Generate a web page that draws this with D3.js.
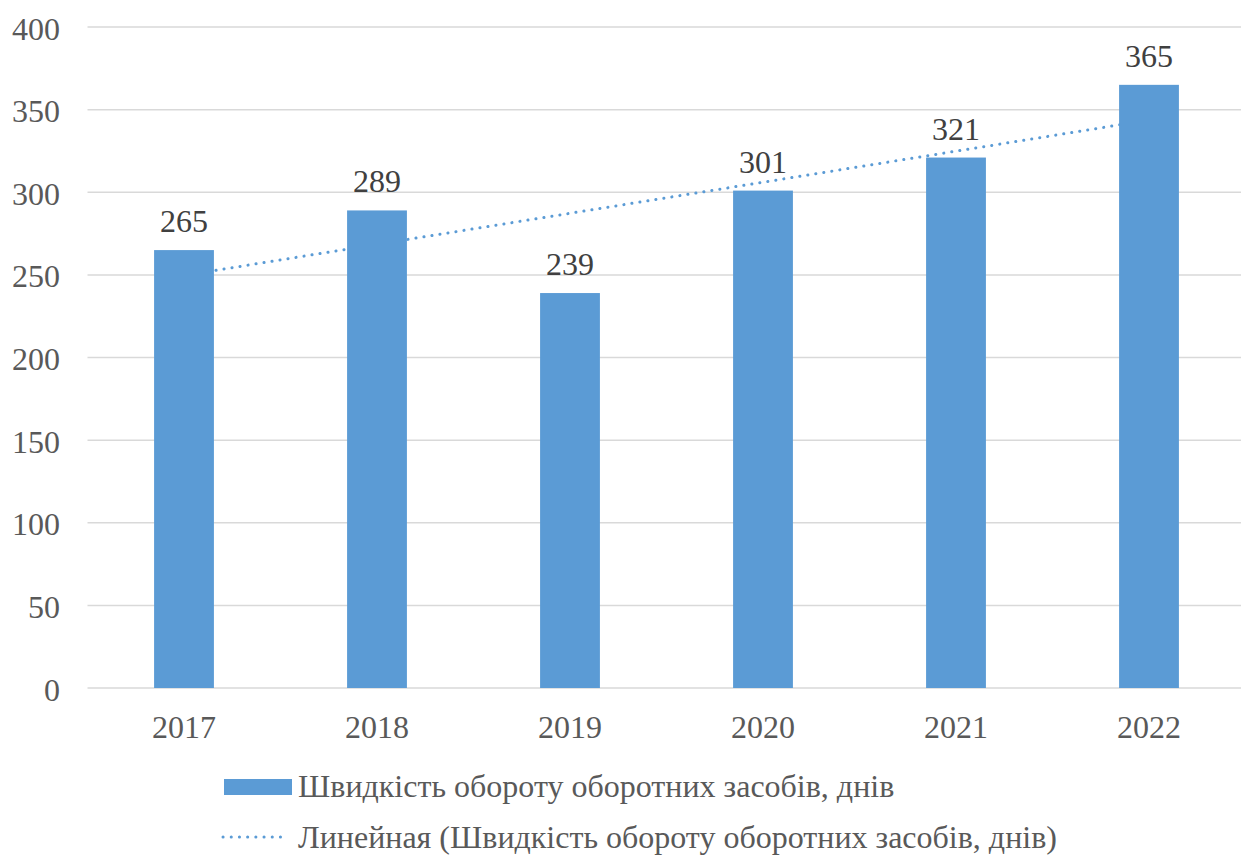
<!DOCTYPE html>
<html>
<head>
<meta charset="utf-8">
<script src="https://cdn.jsdelivr.net/npm/d3@7"></script>
</head>
<body style="margin:0">
<svg id="chart" width="1241" height="856" font-family="Liberation Serif"></svg>
<script>
// Turnover speed of working capital, days, by year
const years = ["2017", "2018", "2019", "2020", "2021", "2022"];
const values = [265, 289, 239, 301, 321, 365];
const yTicks = [0, 50, 100, 150, 200, 250, 300, 350, 400];
const seriesName = "Швидкість обороту оборотних засобів, днів";
const trendName = "Линейная (Швидкість обороту оборотних засобів, днів)";

const svg = d3.select("#chart");
const W = 1241;
const plot = { left: 87.5, right: 1245.5, top: 27, bottom: 688 };
const barColor = "#5B9BD5";
const trendColor = "#5B9BD5";
const FONT = "Liberation Serif";
const FS = 32;

const x = d3.scaleBand().domain(years).range([plot.left, plot.right]).paddingInner(0.69).paddingOuter(0.345);
const y = d3.scaleLinear().domain([0, 400]).range([plot.bottom, plot.top]);

// Horizontal gridlines
svg.append("g")
  .selectAll("line")
  .data(yTicks)
  .join("line")
  .attr("x1", plot.left)
  .attr("x2", W)
  .attr("y1", d => y(d))
  .attr("y2", d => y(d))
  .attr("stroke", "#D9D9D9")
  .attr("stroke-width", 1.5);

// Y axis labels
const yAxis = d3.axisLeft(y).tickValues(yTicks).tickSize(0).tickPadding(0);
const yg = svg.append("g").attr("transform", "translate(60,0)").call(yAxis)
  .attr("font-family", FONT).attr("font-size", FS);
yg.select(".domain").remove();
yg.selectAll("text")
  .attr("fill", "#595959")
  .attr("dy", 0)
  .attr("y", 12);

// X axis labels
const xAxis = d3.axisBottom(x).tickSize(0).tickPadding(0);
const xg = svg.append("g").attr("transform", `translate(0,${plot.bottom})`).call(xAxis)
  .attr("font-family", FONT).attr("font-size", FS);
xg.select(".domain").remove();
xg.selectAll("text")
  .attr("fill", "#595959")
  .attr("dy", 0)
  .attr("y", 50);

// Linear trend (least squares over year index), drawn beneath the bars
const n = values.length;
const xs = d3.range(1, n + 1);
const mx = d3.mean(xs), my = d3.mean(values);
const slope = d3.sum(xs, (xi, i) => (xi - mx) * (values[i] - my)) / d3.sum(xs, xi => (xi - mx) ** 2);
const intercept = my - slope * mx;
const trend = xs.map((xi, i) => ({ year: years[i], v: intercept + slope * xi }));
const cx = d => x(d) + x.bandwidth() / 2;

svg.append("path")
  .datum(trend)
  .attr("d", d3.line().x(d => cx(d.year)).y(d => y(d.v)))
  .attr("fill", "none")
  .attr("stroke", trendColor)
  .attr("stroke-width", 3)
  .attr("stroke-linecap", "round")
  .attr("stroke-dasharray", "0.1 8");

// Bars
svg.append("g")
  .selectAll("rect")
  .data(values)
  .join("rect")
  .attr("x", (d, i) => x(years[i]))
  .attr("y", d => y(d))
  .attr("width", x.bandwidth())
  .attr("height", d => y(0) - y(d))
  .attr("fill", barColor);

// Value labels
svg.append("g")
  .attr("font-family", FONT).attr("font-size", FS)
  .selectAll("text")
  .data(values)
  .join("text")
  .attr("x", (d, i) => cx(years[i]))
  .attr("y", d => y(d) - 18)
  .attr("text-anchor", "middle")
  .attr("fill", "#404040")
  .text(d => d);

// Legend
const lg = svg.append("g").attr("font-family", FONT).attr("font-size", FS);
lg.append("rect")
  .attr("x", 224).attr("y", 779).attr("width", 68).attr("height", 16)
  .attr("fill", barColor);
lg.append("text")
  .attr("x", 298).attr("y", 797)
  .attr("fill", "#595959")
  .text(seriesName);
lg.append("line")
  .attr("x1", 223).attr("x2", 288).attr("y1", 837).attr("y2", 837)
  .attr("stroke", trendColor).attr("stroke-width", 3)
  .attr("stroke-linecap", "round").attr("stroke-dasharray", "0.1 8.1");
lg.append("text")
  .attr("x", 298).attr("y", 848)
  .attr("fill", "#595959")
  .text(trendName);
</script>
</body>
</html>
